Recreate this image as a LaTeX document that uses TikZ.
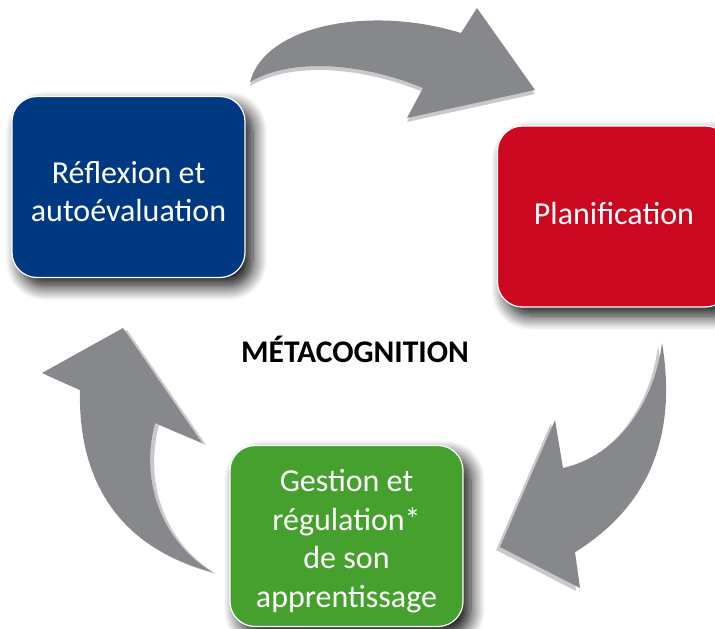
\documentclass[tikz,border=0pt]{standalone}
\usepackage{fontspec}
\setmainfont{Carlito}
\usetikzlibrary{shadows.blur}
\definecolor{reflblue}{RGB}{0,56,130}
\definecolor{planred}{RGB}{204,8,32}
\definecolor{gestgreen}{RGB}{69,160,46}
\definecolor{arrowgray}{RGB}{135,136,139}
\definecolor{arrowlight}{RGB}{200,201,203}
\tikzset{box/.style={rectangle,rounded corners=25pt,draw=white,line width=1.2pt,
		minimum width=233pt,minimum height=181pt,
		blur shadow={shadow xshift=8pt,shadow yshift=-9pt,shadow blur radius=14pt,
			shadow blur steps=12,shadow opacity=95}},
	boxtext/.style={text=white,align=center,font=\fontsize{32}{38.5}\selectfont},
	bigarrow/.style={fill=arrowgray},
	arrowedge/.style={fill=arrowlight}}
\newcommand{\toparrowpath}{(250,82) .. controls (265,25) and (370,5) .. (461,33) -- (477,8) -- (535,90)
	-- (407,118) -- (423,88) .. controls (360,62) and (290,58) .. (250,82) -- cycle}
\newcommand{\rightarrowpath}{(662,343) .. controls (675,420) and (660,500) .. (575,552) -- (580,588)
	-- (500,547) -- (555,420) -- (563,468) .. controls (620,455) and (655,400) .. (662,343) -- cycle}
\newcommand{\leftarrowpath}{(80,390) -- (42,373) -- (123,328) -- (202,443) -- (155,423)
	.. controls (140,480) and (160,540) .. (212,572) .. controls (110,545) and (78,470) .. (80,390) -- cycle}

\begin{document}
\begin{tikzpicture}[x=1pt,y=-1pt]
	\useasboundingbox (0,0) rectangle (715,629);
	\clip (0,0) rectangle (715,629);
	% curved arrows, light edge first
	\fill[arrowedge,shift={(0,4)}] \toparrowpath;
	\fill[bigarrow] \toparrowpath;
	\fill[arrowedge,shift={(-4,3)}] \rightarrowpath;
	\fill[bigarrow] \rightarrowpath;
	\fill[arrowedge,shift={(4,2)}] \leftarrowpath;
	\fill[bigarrow] \leftarrowpath;
	% the three steps
	\node[box,fill=reflblue] (reflexion) at (128.5,187) {};
	\node[box,fill=planred] (planif) at (614,216.5) {};
	\node[box,fill=gestgreen] (gestion) at (346.5,536) {};
	\node[boxtext] (reflexiontext) at (128.5,191.5) {Réflexion et\\autoévaluation};
	\node[boxtext] (planiftext) at (614,214) {Planification};
	\node[boxtext] (gestiontext) at (346.5,541) {Gestion et\\régulation*\\de son\\apprentissage};
	\node[font=\bfseries\fontsize{31.5}{36}\selectfont] (meta) at (355,349) {MÉTACOGNITION};
\end{tikzpicture}
\end{document}
